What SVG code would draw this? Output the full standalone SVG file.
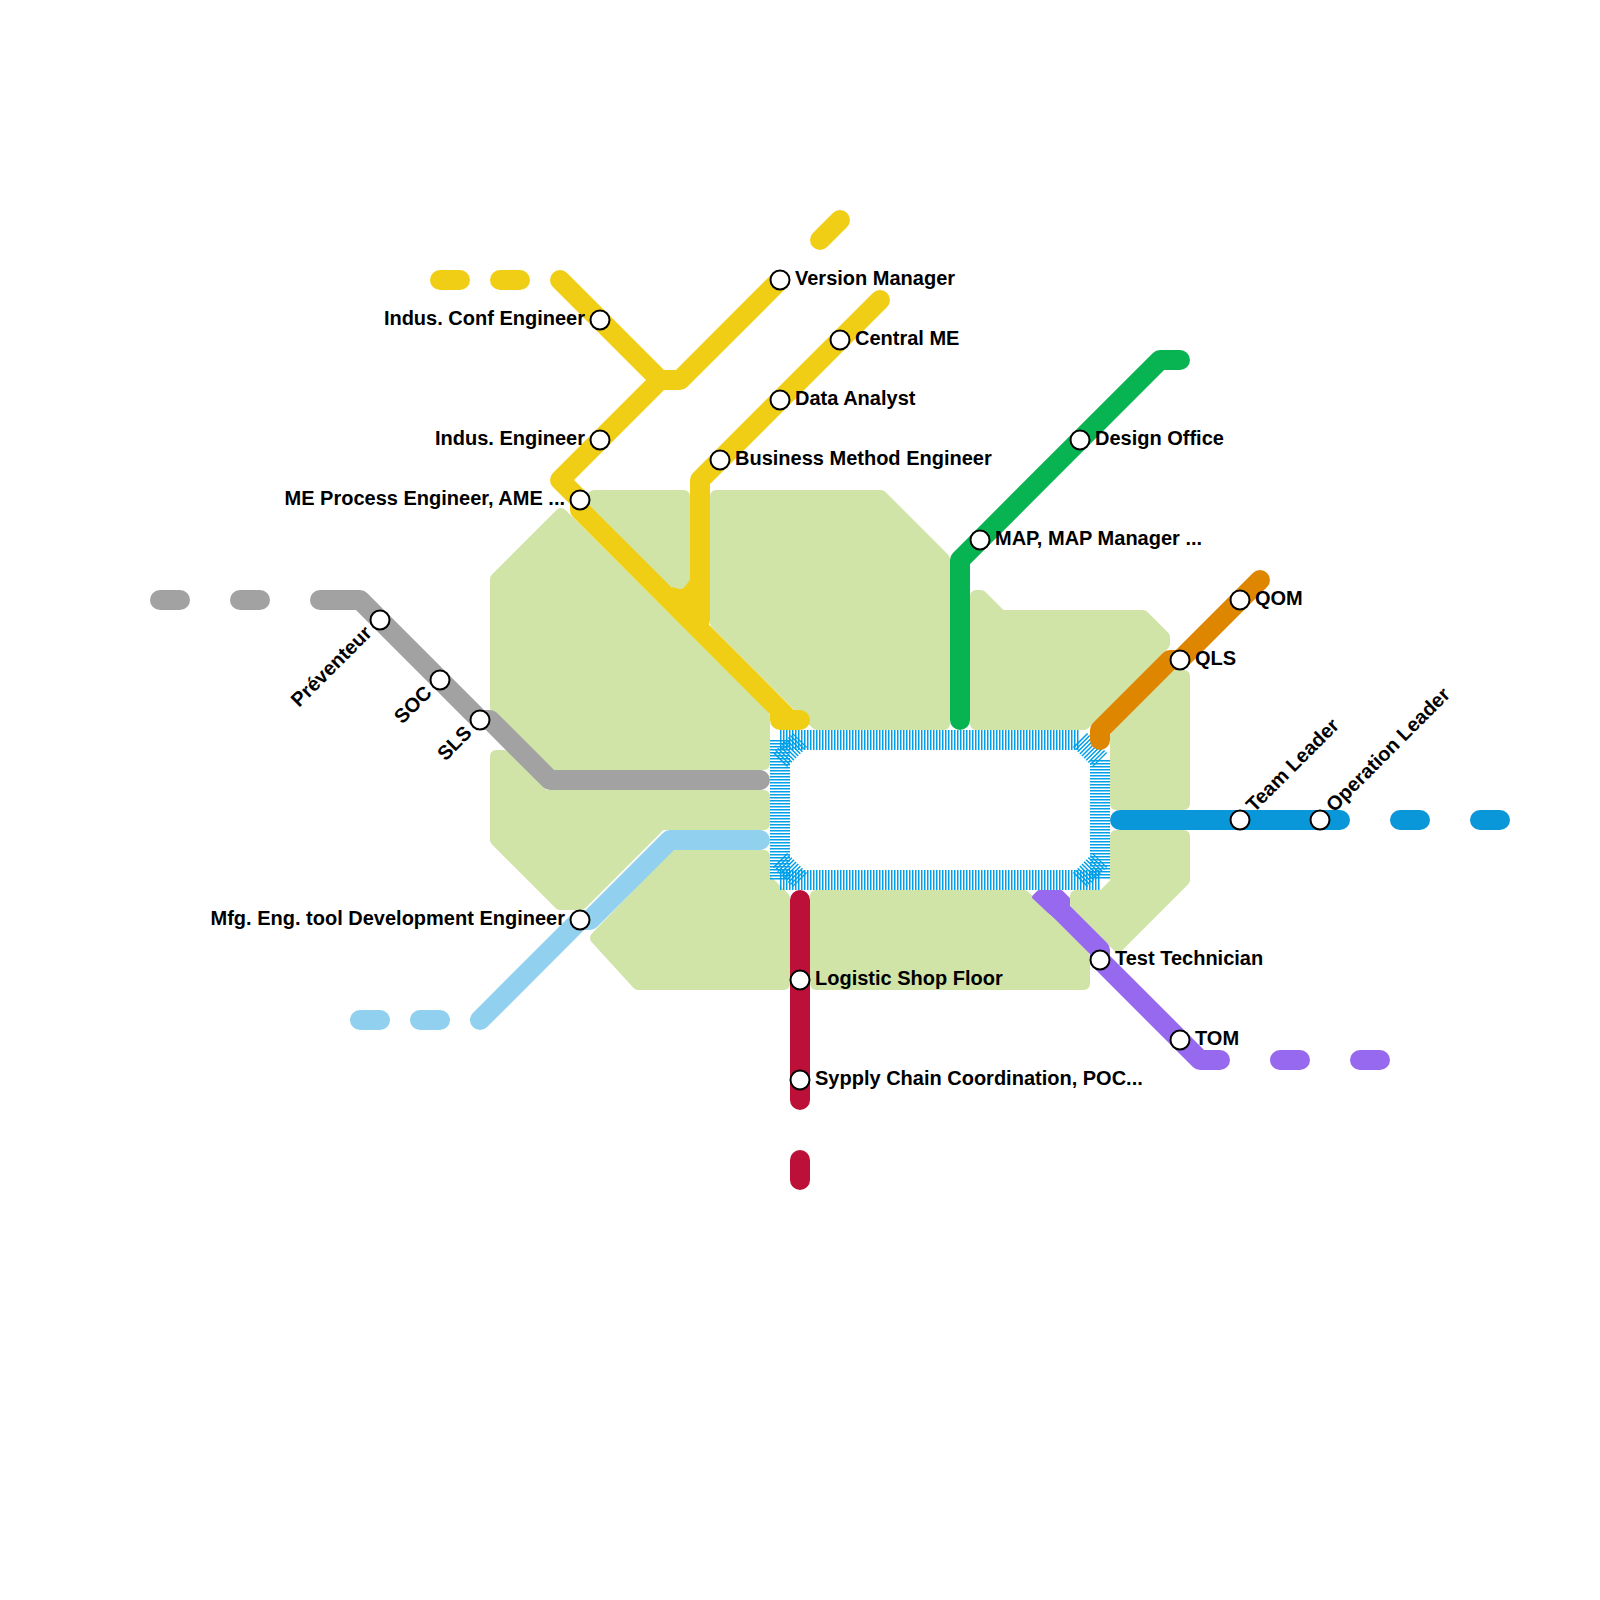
<svg xmlns="http://www.w3.org/2000/svg" width="1600" height="1600" viewBox="0 0 1600 1600">
<style>
.g{fill:#d0e4a8;stroke:#d0e4a8;stroke-width:12;stroke-linejoin:round}
.l{fill:none;stroke-width:20;stroke-linecap:round;stroke-linejoin:round}
.y{stroke:#f0ce15}.a{stroke:#a2a2a2}.b{stroke:#91d0ee}.r{stroke:#bd1038}.e{stroke:#08b452}.o{stroke:#df8600}.p{stroke:#9769ee}.c{stroke:#0a97da}
.s{fill:none;stroke:#00a0e9;stroke-width:20;stroke-dasharray:1.5 1.5}
.st{fill:#fff;stroke:#000;stroke-width:2}
text{font-family:"Liberation Sans",Arial,sans-serif;font-weight:700;font-size:20px;fill:#000}
.m{text-anchor:end}
</style>
<rect width="1600" height="1600" fill="#fff"/>
<g id="fill-joint"><polygon points="665,577 690,577 690,610 680,600" fill="#f0ce15"/></g>
<g id="areas">
<polygon class="g" points="496,579 561,514 764,716 764,764 552,764 496,708"/>
<polygon class="g" points="496,756 504,756 544,796 764,796 764,824 661,824 581,904 560,904 496,840"/>
<polygon class="g" points="675,856 764,856 764,878 784,898 784,984 638,984 596,938"/>
<polygon class="g" points="816,896 1024,896 1084,956 1084,984 816,984"/>
<polygon class="g" points="1116,836 1184,836 1184,880 1118,946 1076,904 1076,896 1103,896 1116,883"/>
<polygon class="g" points="1116,736 1176,676 1184,676 1184,804 1116,804"/>
<polygon class="g" points="976,596 981,596 1001,616 1143,616 1164,637 1164,644 1084,724 976,724"/>
<polygon class="g" points="716,496 881,496 944,559 944,724 817,724 716,623"/>
<polygon class="g" points="594,496 684,496 684,578 680,583 673,581 591,499"/>
</g>
<g id="connectors">
<path class="s" d="M780 740H1080M780 880H1100M1100 760V880M780 740V880"/>
<path class="s" d="M780 760L800 740M780 860L800 880M1080 740L1100 760M1080 880L1100 860"/>
<path class="l y" d="M440 280H460M500 280H520M820 240L840 220M560 280L660 380H680L780 280M660 380L560 480L580 500V510L780 710V720H800M880 300L700 480V620"/>
<polygon points="788,704 809,725 780,726" fill="#f0ce15"/>
<path class="l a" d="M160 600H180M240 600H260M320 600H360L480 720H490L550 780H760"/>
<path class="l b" d="M360 1020H380M420 1020H440M480 1020L580 920H590L670 840H760"/>
<path class="l r" d="M800 900V1100M800 1160V1180"/>
<path class="l e" d="M1180 360H1160L960 560V720"/>
<path class="l o" d="M1260 580L1180 660H1170L1100 730V740"/>
<path class="l p" d="M1050 900L1100 950V960L1200 1060H1220M1280 1060H1300M1360 1060H1380"/>
<polygon points="1034,897 1039,892 1061,892 1068,899 1068,905 1060,920 1050,912" fill="#9769ee" stroke="#9769ee" stroke-width="4" stroke-linejoin="round"/>
<path class="l c" d="M1120 820H1340M1400 820H1420M1480 820H1500"/>
</g>
<g id="n1"><circle class="st" cx="600" cy="320" r="9.5"/><text class="m" x="585" y="325">Indus. Conf Engineer</text></g>
<g id="n2"><circle class="st" cx="600" cy="440" r="9.5"/><text class="m" x="585" y="445">Indus. Engineer</text></g>
<g id="n3"><circle class="st" cx="580" cy="500" r="9.5"/><text class="m" x="565" y="505">ME Process Engineer, AME ...</text></g>
<g id="n4"><circle class="st" cx="780" cy="280" r="9.5"/><text x="795" y="285">Version Manager</text></g>
<g id="n5"><circle class="st" cx="840" cy="340" r="9.5"/><text x="855" y="345">Central ME</text></g>
<g id="n6"><circle class="st" cx="780" cy="400" r="9.5"/><text x="795" y="405">Data Analyst</text></g>
<g id="n7"><circle class="st" cx="720" cy="460" r="9.5"/><text x="735" y="465">Business Method Engineer</text></g>
<g id="n8"><circle class="st" cx="1080" cy="440" r="9.5"/><text x="1095" y="445">Design Office</text></g>
<g id="n9"><circle class="st" cx="980" cy="540" r="9.5"/><text x="995" y="545">MAP, MAP Manager ...</text></g>
<g id="n10"><circle class="st" cx="1240" cy="600" r="9.5"/><text x="1255" y="605">QOM</text></g>
<g id="n11"><circle class="st" cx="1180" cy="660" r="9.5"/><text x="1195" y="665">QLS</text></g>
<g id="n12"><circle class="st" cx="1240" cy="820" r="9.5"/><text x="1255" y="825" transform="rotate(-45 1240 820)">Team Leader</text></g>
<g id="n13"><circle class="st" cx="1320" cy="820" r="9.5"/><text x="1335" y="825" transform="rotate(-45 1320 820)">Operation Leader</text></g>
<g id="n14"><circle class="st" cx="1100" cy="960" r="9.5"/><text x="1115" y="965">Test Technician</text></g>
<g id="n15"><circle class="st" cx="1180" cy="1040" r="9.5"/><text x="1195" y="1045">TOM</text></g>
<g id="n16"><circle class="st" cx="800" cy="980" r="9.5"/><text x="815" y="985">Logistic Shop Floor</text></g>
<g id="n17"><circle class="st" cx="800" cy="1080" r="9.5"/><text x="815" y="1085">Sypply Chain Coordination, POC...</text></g>
<g id="n18"><circle class="st" cx="580" cy="920" r="9.5"/><text class="m" x="565" y="925">Mfg. Eng. tool Development Engineer</text></g>
<g id="n19"><circle class="st" cx="380" cy="620" r="9.5"/><text class="m" x="365" y="625" transform="rotate(-45 380 620)">Préventeur</text></g>
<g id="n20"><circle class="st" cx="440" cy="680" r="9.5"/><text class="m" x="425" y="685" transform="rotate(-45 440 680)">SOC</text></g>
<g id="n21"><circle class="st" cx="480" cy="720" r="9.5"/><text class="m" x="465" y="725" transform="rotate(-45 480 720)">SLS</text></g>
</svg>
